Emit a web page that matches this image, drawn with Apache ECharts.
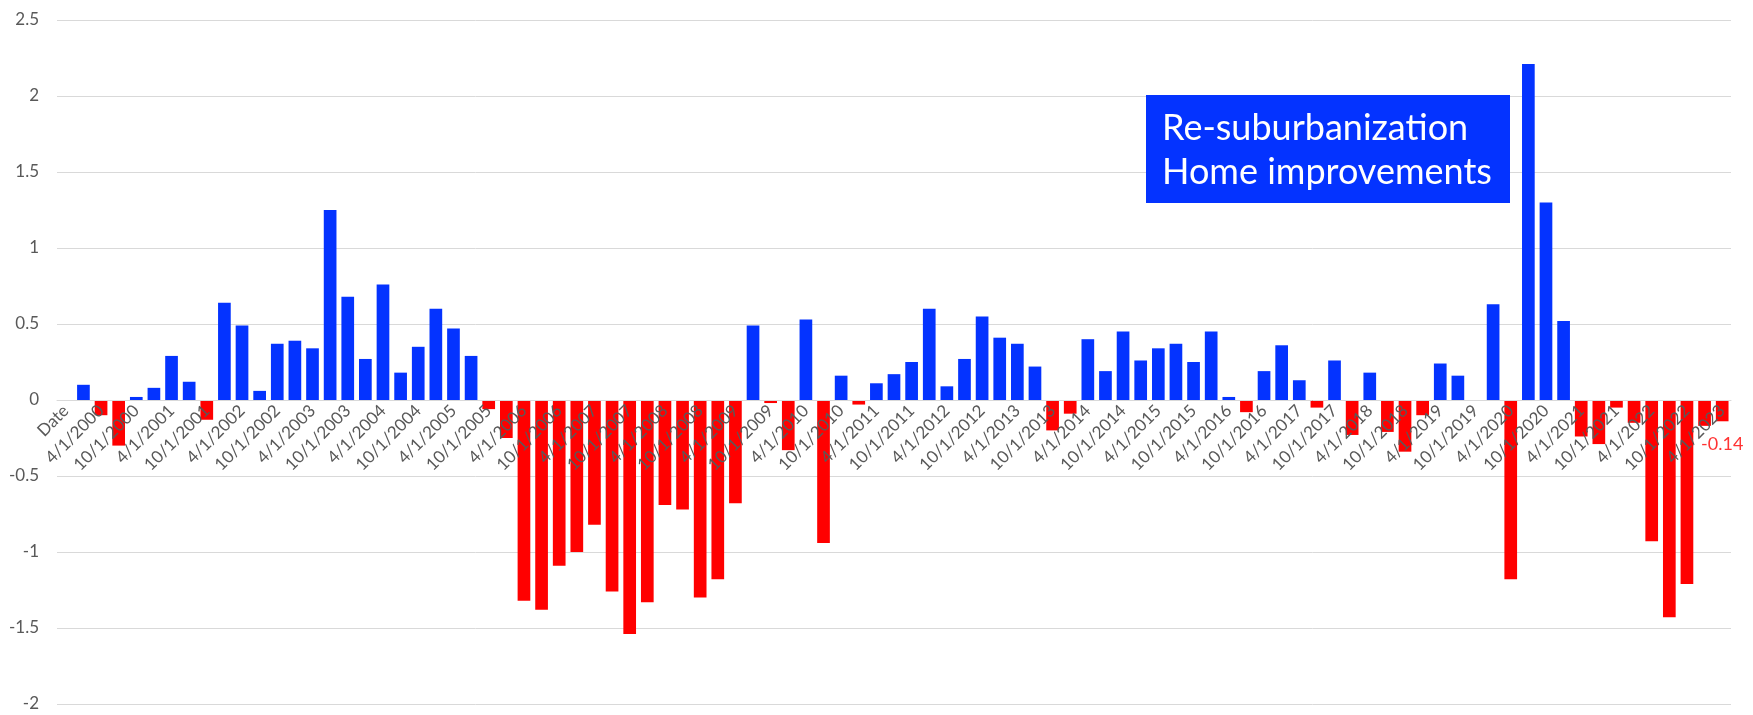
<!DOCTYPE html>
<html>
<head>
<meta charset="utf-8">
<script src="https://cdn.jsdelivr.net/npm/echarts@6/dist/echarts.min.js"></script>
<style>
  html, body { margin: 0; padding: 0; background: #fff; }
  #chart { width: 1753px; height: 715px; }
</style>
</head>
<body>
<div id="chart"></div>
<script>
// Categorías: la primera es la cabecera "Date", luego trimestres
var categorias = [
  "Date",
  "1/1/2000", "4/1/2000", "7/1/2000", "10/1/2000",
  "1/1/2001", "4/1/2001", "7/1/2001", "10/1/2001",
  "1/1/2002", "4/1/2002", "7/1/2002", "10/1/2002",
  "1/1/2003", "4/1/2003", "7/1/2003", "10/1/2003",
  "1/1/2004", "4/1/2004", "7/1/2004", "10/1/2004",
  "1/1/2005", "4/1/2005", "7/1/2005", "10/1/2005",
  "1/1/2006", "4/1/2006", "7/1/2006", "10/1/2006",
  "1/1/2007", "4/1/2007", "7/1/2007", "10/1/2007",
  "1/1/2008", "4/1/2008", "7/1/2008", "10/1/2008",
  "1/1/2009", "4/1/2009", "7/1/2009", "10/1/2009",
  "1/1/2010", "4/1/2010", "7/1/2010", "10/1/2010",
  "1/1/2011", "4/1/2011", "7/1/2011", "10/1/2011",
  "1/1/2012", "4/1/2012", "7/1/2012", "10/1/2012",
  "1/1/2013", "4/1/2013", "7/1/2013", "10/1/2013",
  "1/1/2014", "4/1/2014", "7/1/2014", "10/1/2014",
  "1/1/2015", "4/1/2015", "7/1/2015", "10/1/2015",
  "1/1/2016", "4/1/2016", "7/1/2016", "10/1/2016",
  "1/1/2017", "4/1/2017", "7/1/2017", "10/1/2017",
  "1/1/2018", "4/1/2018", "7/1/2018", "10/1/2018",
  "1/1/2019", "4/1/2019", "7/1/2019", "10/1/2019",
  "1/1/2020", "4/1/2020", "7/1/2020", "10/1/2020",
  "1/1/2021", "4/1/2021", "7/1/2021", "10/1/2021",
  "1/1/2022", "4/1/2022", "7/1/2022", "10/1/2022",
  "1/1/2023", "4/1/2023"
];

// Valores por trimestre (la cabecera no tiene valor)
var valores = [
  null,
  0.10, -0.10, -0.30, 0.02,
  0.08, 0.29, 0.12, -0.13,
  0.64, 0.49, 0.06, 0.37,
  0.39, 0.34, 1.25, 0.68,
  0.27, 0.76, 0.18, 0.35,
  0.60, 0.47, 0.29, -0.06,
  -0.25, -1.32, -1.38, -1.09,
  -1.00, -0.82, -1.26, -1.54,
  -1.33, -0.69, -0.72, -1.30,
  -1.18, -0.68, 0.49, -0.02,
  -0.33, 0.53, -0.94, 0.16,
  -0.03, 0.11, 0.17, 0.25,
  0.60, 0.09, 0.27, 0.55,
  0.41, 0.37, 0.22, -0.20,
  -0.09, 0.40, 0.19, 0.45,
  0.26, 0.34, 0.37, 0.25,
  0.45, 0.02, -0.08, 0.19,
  0.36, 0.13, -0.05, 0.26,
  -0.23, 0.18, -0.21, -0.34,
  -0.10, 0.24, 0.16, 0,
  0.63, -1.18, 2.21, 1.30,
  0.52, -0.24, -0.29, -0.05,
  -0.15, -0.93, -1.43, -1.21,
  -0.17, -0.14
];

// Límites del eje Y
var yMin = -2;
var yMax = 2.5;
var yPaso = 0.5;

// Texto del recuadro
var anotacion = ["Re-suburbanization", "Home improvements"];

var azul = "#0433ff";
var rojo = "#ff0000";
var fuente = "Lato";

// Márgenes de la rejilla
var rejilla = { left: 57, right: 22, top: 20, bottom: 11 };
var altoRejilla = 715 - rejilla.top - rejilla.bottom;
// Desplazar el eje X (línea y etiquetas) hasta el cero
var desplazamientoEje = -altoRejilla * (0 - yMin) / (yMax - yMin);

// Punto con la etiqueta del último valor
var ultimo = valores.length - 1;
var puntoEtiqueta = [[categorias[ultimo], valores[ultimo]]];

var option = {
  animation: false,
  backgroundColor: "#fff",
  grid: { left: rejilla.left, right: rejilla.right, top: rejilla.top, bottom: rejilla.bottom, containLabel: false },
  xAxis: {
    type: "category",
    data: categorias,
    offset: desplazamientoEje,
    z: 4,
    axisLine: { onZero: false, lineStyle: { color: "#d9d9d9", width: 1 } },
    axisTick: { show: false },
    axisLabel: {
      interval: 1,
      rotate: 45,
      margin: 8,
      color: "#595959",
      fontSize: 17,
      fontFamily: fuente
    },
    splitLine: { show: false }
  },
  yAxis: {
    type: "value",
    min: yMin,
    max: yMax,
    interval: yPaso,
    axisLine: { show: false },
    axisTick: { show: false },
    axisLabel: { color: "#595959", fontSize: 17, fontFamily: fuente, margin: 18 },
    splitLine: { lineStyle: { color: "#d9d9d9", width: 1 } }
  },
  series: [
    {
      type: "bar",
      data: valores,
      barCategoryGap: "28%",
      itemStyle: {
        color: function (p) { return p.value < 0 ? rojo : azul; }
      }
    },
    {
      type: "scatter",
      data: puntoEtiqueta,
      symbolSize: 0,
      silent: true,
      z: 5,
      label: {
        show: true,
        position: "bottom",
        distance: 14,
        color: rojo,
        fontSize: 18,
        fontFamily: fuente,
        formatter: function (p) { return p.value[1].toFixed(2); }
      }
    }
  ],
  graphic: [
    {
      type: "rect",
      left: 1146,
      top: 95,
      shape: { width: 364, height: 108 },
      style: { fill: azul },
      z: 10
    },
    {
      type: "text",
      left: 1162,
      top: 106,
      style: {
        text: anotacion.join("\n"),
        fill: "#fff",
        fontSize: 36,
        lineHeight: 44,
        fontFamily: fuente
      },
      z: 11
    }
  ]
};

var myChart = echarts.init(document.getElementById("chart"), null, { renderer: "canvas" });
myChart.setOption(option);
</script>
</body>
</html>
